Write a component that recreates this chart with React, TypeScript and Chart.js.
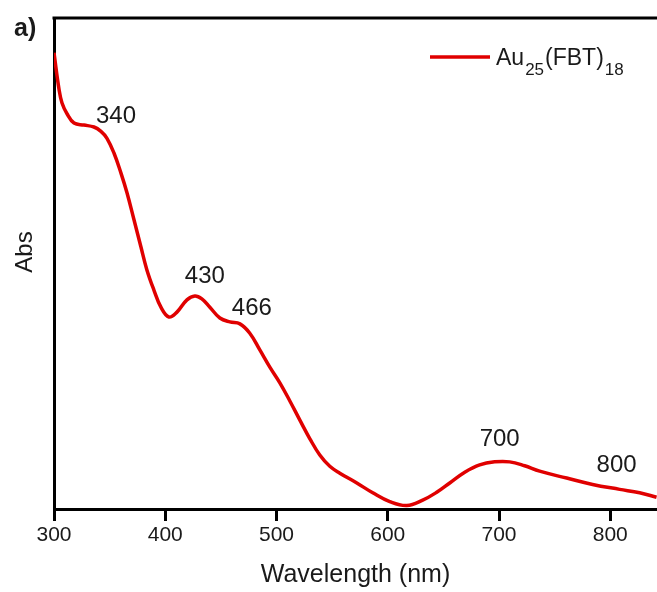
import React, { useEffect, useRef } from "react";
import { Chart, registerables } from "chart.js";

Chart.register(...registerables);

// ---- data ----
const wavelengths = [
  300, 304.5, 307.2, 311.7, 318.0, 326.9, 335.9, 342.2, 347.6, 353.9, 360.2, 365.6, 371.9, 378.1,
  383.5, 389.8, 396.1, 403.3, 410.5, 419.5, 426.6, 432.9, 440.1, 449.1, 458.1, 467.1, 476.0, 485.0,
  494.0, 503.0, 512.0, 521.0, 530.0, 538.9, 547.9, 556.9, 572.2, 586.5, 601.8, 617.1, 631.4, 644.0,
  655.7, 669.2, 682.6, 696.1, 709.6, 723.0, 736.5, 760.8, 784.1, 808.4, 826.4, 841.6,
];
const absorbance = [
  0.929, 0.855, 0.827, 0.805, 0.786, 0.782, 0.778, 0.769, 0.755, 0.725, 0.684, 0.644, 0.589, 0.534,
  0.487, 0.446, 0.411, 0.391, 0.401, 0.426, 0.434, 0.428, 0.411, 0.389, 0.381, 0.377, 0.358, 0.324,
  0.289, 0.257, 0.22, 0.181, 0.143, 0.11, 0.087, 0.073, 0.053, 0.033, 0.015, 0.007, 0.018, 0.034,
  0.053, 0.075, 0.09, 0.096, 0.096, 0.088, 0.077, 0.063, 0.05, 0.04, 0.033, 0.024,
];
const xTickValues = [300, 400, 500, 600, 700, 800];
const peakLabels = ["340", "430", "466", "700", "800"];
const peakLabelX = [355.7, 435.6, 477.8, 700.6, 805.7];
const peakLabelY = [0.8, 0.473, 0.409, 0.141, 0.088];
const legendParts = [
  { text: "Au", sub: false },
  { text: "25", sub: true },
  { text: "(FBT)", sub: false },
  { text: "18", sub: true },
];
const xTitle = "Wavelength (nm)";
const yTitle = "Abs";
const panelLabel = "a)";

const FONT = "'Liberation Sans', Arial, Helvetica, sans-serif";
const TEXT = "#1a1a1a";
const RED = "#e00000";

const decor = {
  id: "decor",
  afterDraw(chart: any) {
    const { ctx, chartArea, scales } = chart;
    ctx.save();
    // top spine
    ctx.strokeStyle = "#000";
    ctx.lineWidth = 3;
    ctx.beginPath();
    ctx.moveTo(chartArea.left - 1.5, chartArea.top);
    ctx.lineTo(chartArea.right, chartArea.top);
    ctx.stroke();

    // peak labels
    ctx.fillStyle = TEXT;
    ctx.font = `24px ${FONT}`;
    ctx.textAlign = "center";
    ctx.textBaseline = "middle";
    peakLabels.forEach((t, i) => {
      ctx.fillText(t, scales.x.getPixelForValue(peakLabelX[i]), scales.y.getPixelForValue(peakLabelY[i]));
    });

    // y title
    ctx.save();
    ctx.translate(25, 252);
    ctx.rotate(-Math.PI / 2);
    ctx.font = `24px ${FONT}`;
    ctx.fillText(yTitle, 0, 0);
    ctx.restore();

    // panel label
    ctx.font = `bold 25px ${FONT}`;
    ctx.textAlign = "left";
    ctx.textBaseline = "alphabetic";
    ctx.fillText(panelLabel, 14, 36);

    // legend
    ctx.strokeStyle = RED;
    ctx.lineWidth = 3.5;
    ctx.beginPath();
    ctx.moveTo(430, 57);
    ctx.lineTo(490, 57);
    ctx.stroke();
    let x = 496;
    legendParts.forEach((p) => {
      ctx.font = p.sub ? `17px ${FONT}` : `23px ${FONT}`;
      ctx.fillText(p.text, x, p.sub ? 75 : 65);
      x += ctx.measureText(p.text).width + 1;
    });
    ctx.restore();
  },
};

export default function App() {
  const ref = useRef<HTMLCanvasElement | null>(null);
  useEffect(() => {
    if (!ref.current) return;
    const chart = new Chart(ref.current, {
      type: "line",
      data: {
        datasets: [
          {
            label: "Au25(FBT)18",
            data: wavelengths.map((w, i) => ({ x: w, y: absorbance[i] })),
            borderColor: RED,
            borderWidth: 3.5,
            pointRadius: 0,
            fill: false,
            tension: 0.4,
          },
        ],
      },
      options: {
        responsive: false,
        animation: false,
        layout: { padding: { top: 18, right: 0, left: 0, bottom: 0 } },
        plugins: { legend: { display: false }, tooltip: { enabled: false } },
        scales: {
          x: {
            type: "linear",
            min: 300,
            max: 842,
            afterBuildTicks: (s: any) => {
              s.ticks = xTickValues.map((v) => ({ value: v }));
            },
            afterFit: (s: any) => {
              s.height = 83;
            },
            grid: {
              display: true,
              drawOnChartArea: false,
              drawTicks: true,
              tickLength: 12,
              lineWidth: 3,
              color: "#000",
            },
            border: { display: true, width: 3, color: "#000" },
            ticks: {
              color: TEXT,
              font: { family: FONT, size: 21 },
              padding: 2,
              maxRotation: 0,
            },
            title: {
              display: true,
              text: xTitle,
              color: TEXT,
              font: { family: FONT, size: 25 },
              padding: { top: 4, bottom: 2 },
            },
          },
          y: {
            type: "linear",
            min: 0,
            max: 1,
            afterFit: (s: any) => {
              s.width = 54;
            },
            grid: { display: false, drawTicks: false },
            border: { display: true, width: 3, color: "#000" },
            ticks: { display: false },
          },
        },
      },
      plugins: [decor],
    });
    return () => chart.destroy();
  }, []);
  return (
    <div style={{ position: "absolute", left: 0, top: 0, width: 657, height: 592, background: "#fff" }}>
      <canvas ref={ref} width={657} height={592} style={{ width: 657, height: 592 }} />
    </div>
  );
}
